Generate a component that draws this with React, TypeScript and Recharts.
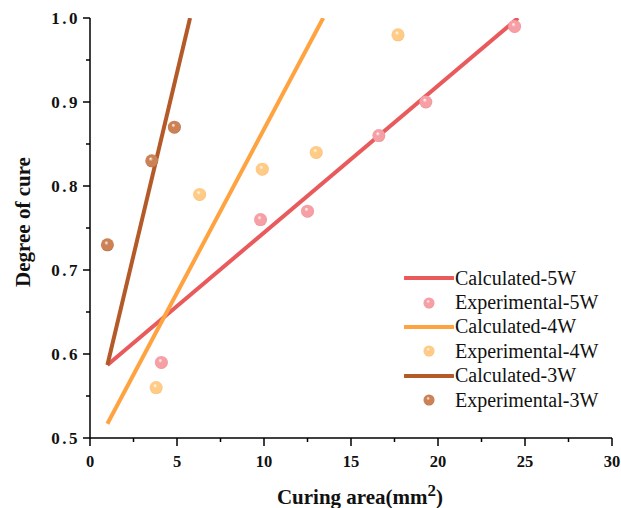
import React from "react";
import {
  ComposedChart,
  Line,
  Scatter,
  XAxis,
  YAxis,
} from "recharts";

// calculated lines (endpoints of each fit)
const calc5W = [
  { x: 1, y: 0.587 },
  { x: 24.6, y: 1.0 },
];
const calc4W = [
  { x: 1, y: 0.517 },
  { x: 13.4, y: 1.0 },
];
const calc3W = [
  { x: 1, y: 0.587 },
  { x: 5.75, y: 1.0 },
];

// experimental points
const exp5W = [
  { x: 4.1, y: 0.59 },
  { x: 9.8, y: 0.76 },
  { x: 12.5, y: 0.77 },
  { x: 16.6, y: 0.86 },
  { x: 19.3, y: 0.9 },
  { x: 24.4, y: 0.99 },
];
const exp4W = [
  { x: 3.8, y: 0.56 },
  { x: 6.3, y: 0.79 },
  { x: 9.9, y: 0.82 },
  { x: 13.0, y: 0.84 },
  { x: 17.7, y: 0.98 },
];
const exp3W = [
  { x: 1.0, y: 0.73 },
  { x: 3.55, y: 0.83 },
  { x: 4.85, y: 0.87 },
];

const xTicks = [0, 2.5, 5, 7.5, 10, 12.5, 15, 17.5, 20, 22.5, 25, 27.5, 30];
const yTicks = [0.5, 0.55, 0.6, 0.65, 0.7, 0.75, 0.8, 0.85, 0.9, 0.95, 1.0];

const legendItems = [
  { kind: "line", name: "Calculated-5W", color: "#E85A5C", grad: "" },
  { kind: "dot", name: "Experimental-5W", color: "#F6A0A6", grad: "ball5" },
  { kind: "line", name: "Calculated-4W", color: "#FFA240", grad: "" },
  { kind: "dot", name: "Experimental-4W", color: "#FFCB86", grad: "ball4" },
  { kind: "line", name: "Calculated-3W", color: "#B45A28", grad: "" },
  { kind: "dot", name: "Experimental-3W", color: "#CC8254", grad: "ball3" },
];

const FONT = "'Liberation Serif', 'Times New Roman', serif";

const Ball = (grad: string, r: number) => (props: any) => {
  const { cx, cy } = props;
  if (cx == null || cy == null) return null;
  return <circle cx={cx} cy={cy} r={r} fill={`url(#${grad})`} />;
};

const YTick = (props: any) => {
  const { x, y, payload, index } = props;
  const major = index % 2 === 0;
  return (
    <g>
      <line x1={x} x2={x - (major ? 7 : 4)} y1={y} y2={y} stroke="#000" strokeWidth={1.5} />
      {major && (
        <text
          x={x - 10}
          y={y}
          textAnchor="end"
          dominantBaseline="central"
          fontFamily={FONT}
          fontWeight="bold"
          fontSize={17}
          letterSpacing={2.5}
          fill="#111"
        >
          {Number(payload.value).toFixed(1)}
        </text>
      )}
    </g>
  );
};

const XTick = (props: any) => {
  const { x, y, payload, index } = props;
  const major = index % 2 === 0;
  return (
    <g>
      <line x1={x} x2={x} y1={y} y2={y + (major ? 8 : 4)} stroke="#000" strokeWidth={1.5} />
      {major && (
        <text
          x={x}
          y={y + 29}
          textAnchor="middle"
          fontFamily={FONT}
          fontWeight="bold"
          fontSize={16.5}
          fill="#111"
        >
          {payload.value}
        </text>
      )}
    </g>
  );
};

const XTitle = (props: any) => {
  const { viewBox } = props;
  const cx = viewBox.x + viewBox.width / 2 + 9;
  return (
    <text
      x={cx}
      y={viewBox.y + 66}
      textAnchor="middle"
      fontFamily={FONT}
      fontWeight="bold"
      fontSize={21}
      fill="#111"
    >
      Curing area(mm
      <tspan dy={-8} fontSize={17}>2</tspan>
      <tspan dy={8}>)</tspan>
    </text>
  );
};

const YTitle = (props: any) => {
  const { viewBox } = props;
  const cy = viewBox.y + viewBox.height / 2 - 6;
  const x = 30;
  return (
    <text
      x={x}
      y={cy}
      transform={`rotate(-90, ${x}, ${cy})`}
      textAnchor="middle"
      fontFamily={FONT}
      fontWeight="bold"
      fontSize={21}
      fill="#111"
    >
      Degree of cure
    </text>
  );
};

const LegendBox = () => (
  <div style={{ position: "absolute", left: 404, top: 266, fontFamily: FONT }}>
    {legendItems.map((item) => (
      <div
        key={item.name}
        style={{ display: "flex", alignItems: "center", height: 24.4 }}
      >
        <svg width={50} height={12}>
          {item.kind === "line" ? (
            <line x1={1} x2={49} y1={6} y2={6} stroke={item.color} strokeWidth={4} strokeLinecap="round" />
          ) : (
            <circle cx={25} cy={6} r={5.5} fill={`url(#${item.grad})`} />
          )}
        </svg>
        <span style={{ fontSize: 20, color: "#111", marginLeft: 1 }}>
          {item.name}
        </span>
      </div>
    ))}
  </div>
);

const gradStops = [
  { id: "ball5", base: "#F6A0A6", dark: "#E8848C" },
  { id: "ball4", base: "#FFCB86", dark: "#F2B468" },
  { id: "ball3", base: "#CC8254", dark: "#B0663A" },
];

export default function App() {
  return (
    <div style={{ position: "absolute", left: 0, top: 0, width: 621, height: 508, background: "#fff" }}>
      <svg width={0} height={0} style={{ position: "absolute" }}>
        <defs>
          {gradStops.map((g) => (
            <radialGradient key={g.id} id={g.id} cx="50%" cy="50%" r="55%" fx="40%" fy="32%">
              <stop offset="0%" stopColor="#ffffff" />
              <stop offset="30%" stopColor={g.base} />
              <stop offset="80%" stopColor={g.base} />
              <stop offset="100%" stopColor={g.dark} />
            </radialGradient>
          ))}
        </defs>
      </svg>
      <ComposedChart
        width={621}
        height={508}
        margin={{ top: 18, right: 9, left: 0, bottom: 0 }}
      >
        <XAxis
          type="number"
          dataKey="x"
          domain={[0, 30]}
          ticks={xTicks}
          interval={0}
          height={70}
          tickSize={0}
          tickMargin={0}
          tickLine={false}
          tick={<XTick />}
          axisLine={{ stroke: "#000", strokeWidth: 1.5 }}
          allowDataOverflow
          label={<XTitle />}
        />
        <XAxis
          xAxisId="top"
          orientation="top"
          type="number"
          domain={[0, 30]}
          height={0}
          tick={false}
          tickLine={false}
          axisLine={{ stroke: "#000", strokeWidth: 1.5 }}
        />
        <YAxis
          type="number"
          dataKey="y"
          domain={[0.5, 1.0]}
          ticks={yTicks}
          interval={0}
          width={90}
          tickSize={0}
          tickMargin={0}
          tickLine={false}
          tick={<YTick />}
          axisLine={{ stroke: "#000", strokeWidth: 1.5 }}
          allowDataOverflow
          label={<YTitle />}
        />
        <YAxis
          yAxisId="right"
          orientation="right"
          type="number"
          domain={[0.5, 1.0]}
          width={0}
          tick={false}
          tickLine={false}
          axisLine={{ stroke: "#000", strokeWidth: 1.5 }}
        />
        <Line data={calc5W} dataKey="y" stroke="#E85A5C" strokeWidth={4} dot={false} isAnimationActive={false} />
        <Line data={calc4W} dataKey="y" stroke="#FFA240" strokeWidth={4} dot={false} isAnimationActive={false} />
        <Line data={calc3W} dataKey="y" stroke="#B45A28" strokeWidth={4} dot={false} isAnimationActive={false} />
        <Scatter data={exp5W} dataKey="y" shape={Ball("ball5", 6.5)} isAnimationActive={false} />
        <Scatter data={exp4W} dataKey="y" shape={Ball("ball4", 6.5)} isAnimationActive={false} />
        <Scatter data={exp3W} dataKey="y" shape={Ball("ball3", 6.5)} isAnimationActive={false} />
      </ComposedChart>
      <LegendBox />
    </div>
  );
}
